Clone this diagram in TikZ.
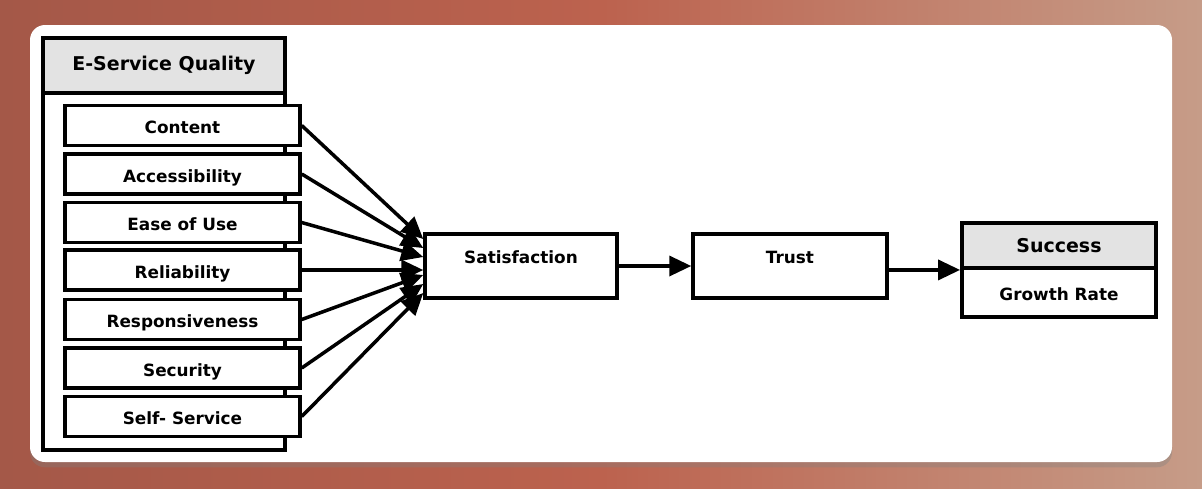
\documentclass[tikz,border=0pt]{standalone}
\usepackage{fontspec}
\setmainfont{DejaVu Sans}
\usepackage{tikz}
\usetikzlibrary{arrows.meta,positioning,calc,shadows}
\definecolor{esqbgleft}{RGB}{164,88,72}
\definecolor{esqbgmid}{RGB}{188,98,78}
\definecolor{esqbgright}{RGB}{198,156,136}
\definecolor{esqgray}{RGB}{227,227,227}

\begin{document}
\begin{tikzpicture}[x=0.02cm,y=-0.02cm,
  esqitem/.style={draw,line width=2pt,fill=white,minimum width=4.7cm,minimum height=0.8cm,
    inner sep=0pt,text height=10pt,text depth=0.8pt,font=\fontsize{9.6}{11}\selectfont\bfseries},
  esqbox/.style={draw,line width=2pt,fill=white,minimum height=1.28cm,inner sep=0pt,
    text height=8pt,text depth=11.2pt,font=\fontsize{9.6}{11}\selectfont\bfseries},
  esqhead/.style={draw,line width=2.2pt,fill=esqgray,inner sep=0pt,
    font=\fontsize{10.8}{13}\selectfont\bfseries},
  esqarr/.style={-{Triangle[length=0.44cm,width=0.4cm]},line width=2pt}
]
  % Background and panel
  \shade[left color=esqbgleft,right color=esqbgright,middle color=esqbgmid] (0,0) rectangle (1202,488);
  \fill[white,rounded corners=0.3cm,drop shadow={opacity=0.35,shadow xshift=0pt,shadow yshift=-3pt}]
    (30,25) rectangle (1172,462);

  % E-Service Quality group
  \node[draw,line width=2.2pt,fill=white,minimum width=4.84cm,minimum height=8.24cm] (esqframe) at (164,244) {};
  \node[esqhead,minimum width=4.84cm,minimum height=1.1cm] (esq) at (164,65.5) {E-Service Quality};

  \node[esqitem] (content) at (182.5,125.5) {Content};
  \node[esqitem] (access) at (182.5,174) {Accessibility};
  \node[esqitem] (ease) at (182.5,222.5) {Ease of Use};
  \node[esqitem] (reliab) at (182.5,270) {Reliability};
  \node[esqitem] (respons) at (182.5,319.5) {Responsiveness};
  \node[esqitem] (security) at (182.5,368) {Security};
  \node[esqitem] (selfserv) at (182.5,416.5) {Self- Service};

  % Chain
  \node[esqbox,minimum width=3.84cm] (sat) at (521,266) {Satisfaction};
  \node[esqbox,minimum width=3.88cm] (trust) at (790,266) {Trust};
  \node[esqhead,minimum width=3.88cm,minimum height=0.9cm] (success) at (1059,245.5) {Success};
  \node[esqitem,line width=2.2pt,minimum width=3.88cm,minimum height=0.98cm,below=-2.2pt of success] (growth) {Growth Rate};

  % Arrows into Satisfaction
  \draw[esqarr] (content.east) -- ([yshift=0.54cm]sat.west);
  \draw[esqarr] (access.east) -- ([yshift=0.36cm]sat.west);
  \draw[esqarr] (ease.east) -- ([yshift=0.18cm]sat.west);
  \draw[esqarr] (reliab.east) -- (reliab.east -| sat.west);
  \draw[esqarr] (respons.east) -- ([yshift=-0.18cm]sat.west);
  \draw[esqarr] (security.east) -- ([yshift=-0.36cm]sat.west);
  \draw[esqarr] (selfserv.east) -- ([yshift=-0.54cm]sat.west);

  % Arrows along the chain
  \draw[esqarr] (sat.east) -- (trust.west);
  \draw[esqarr] (trust.east |- success.south west) -- (success.south west);
\end{tikzpicture}
\end{document}
